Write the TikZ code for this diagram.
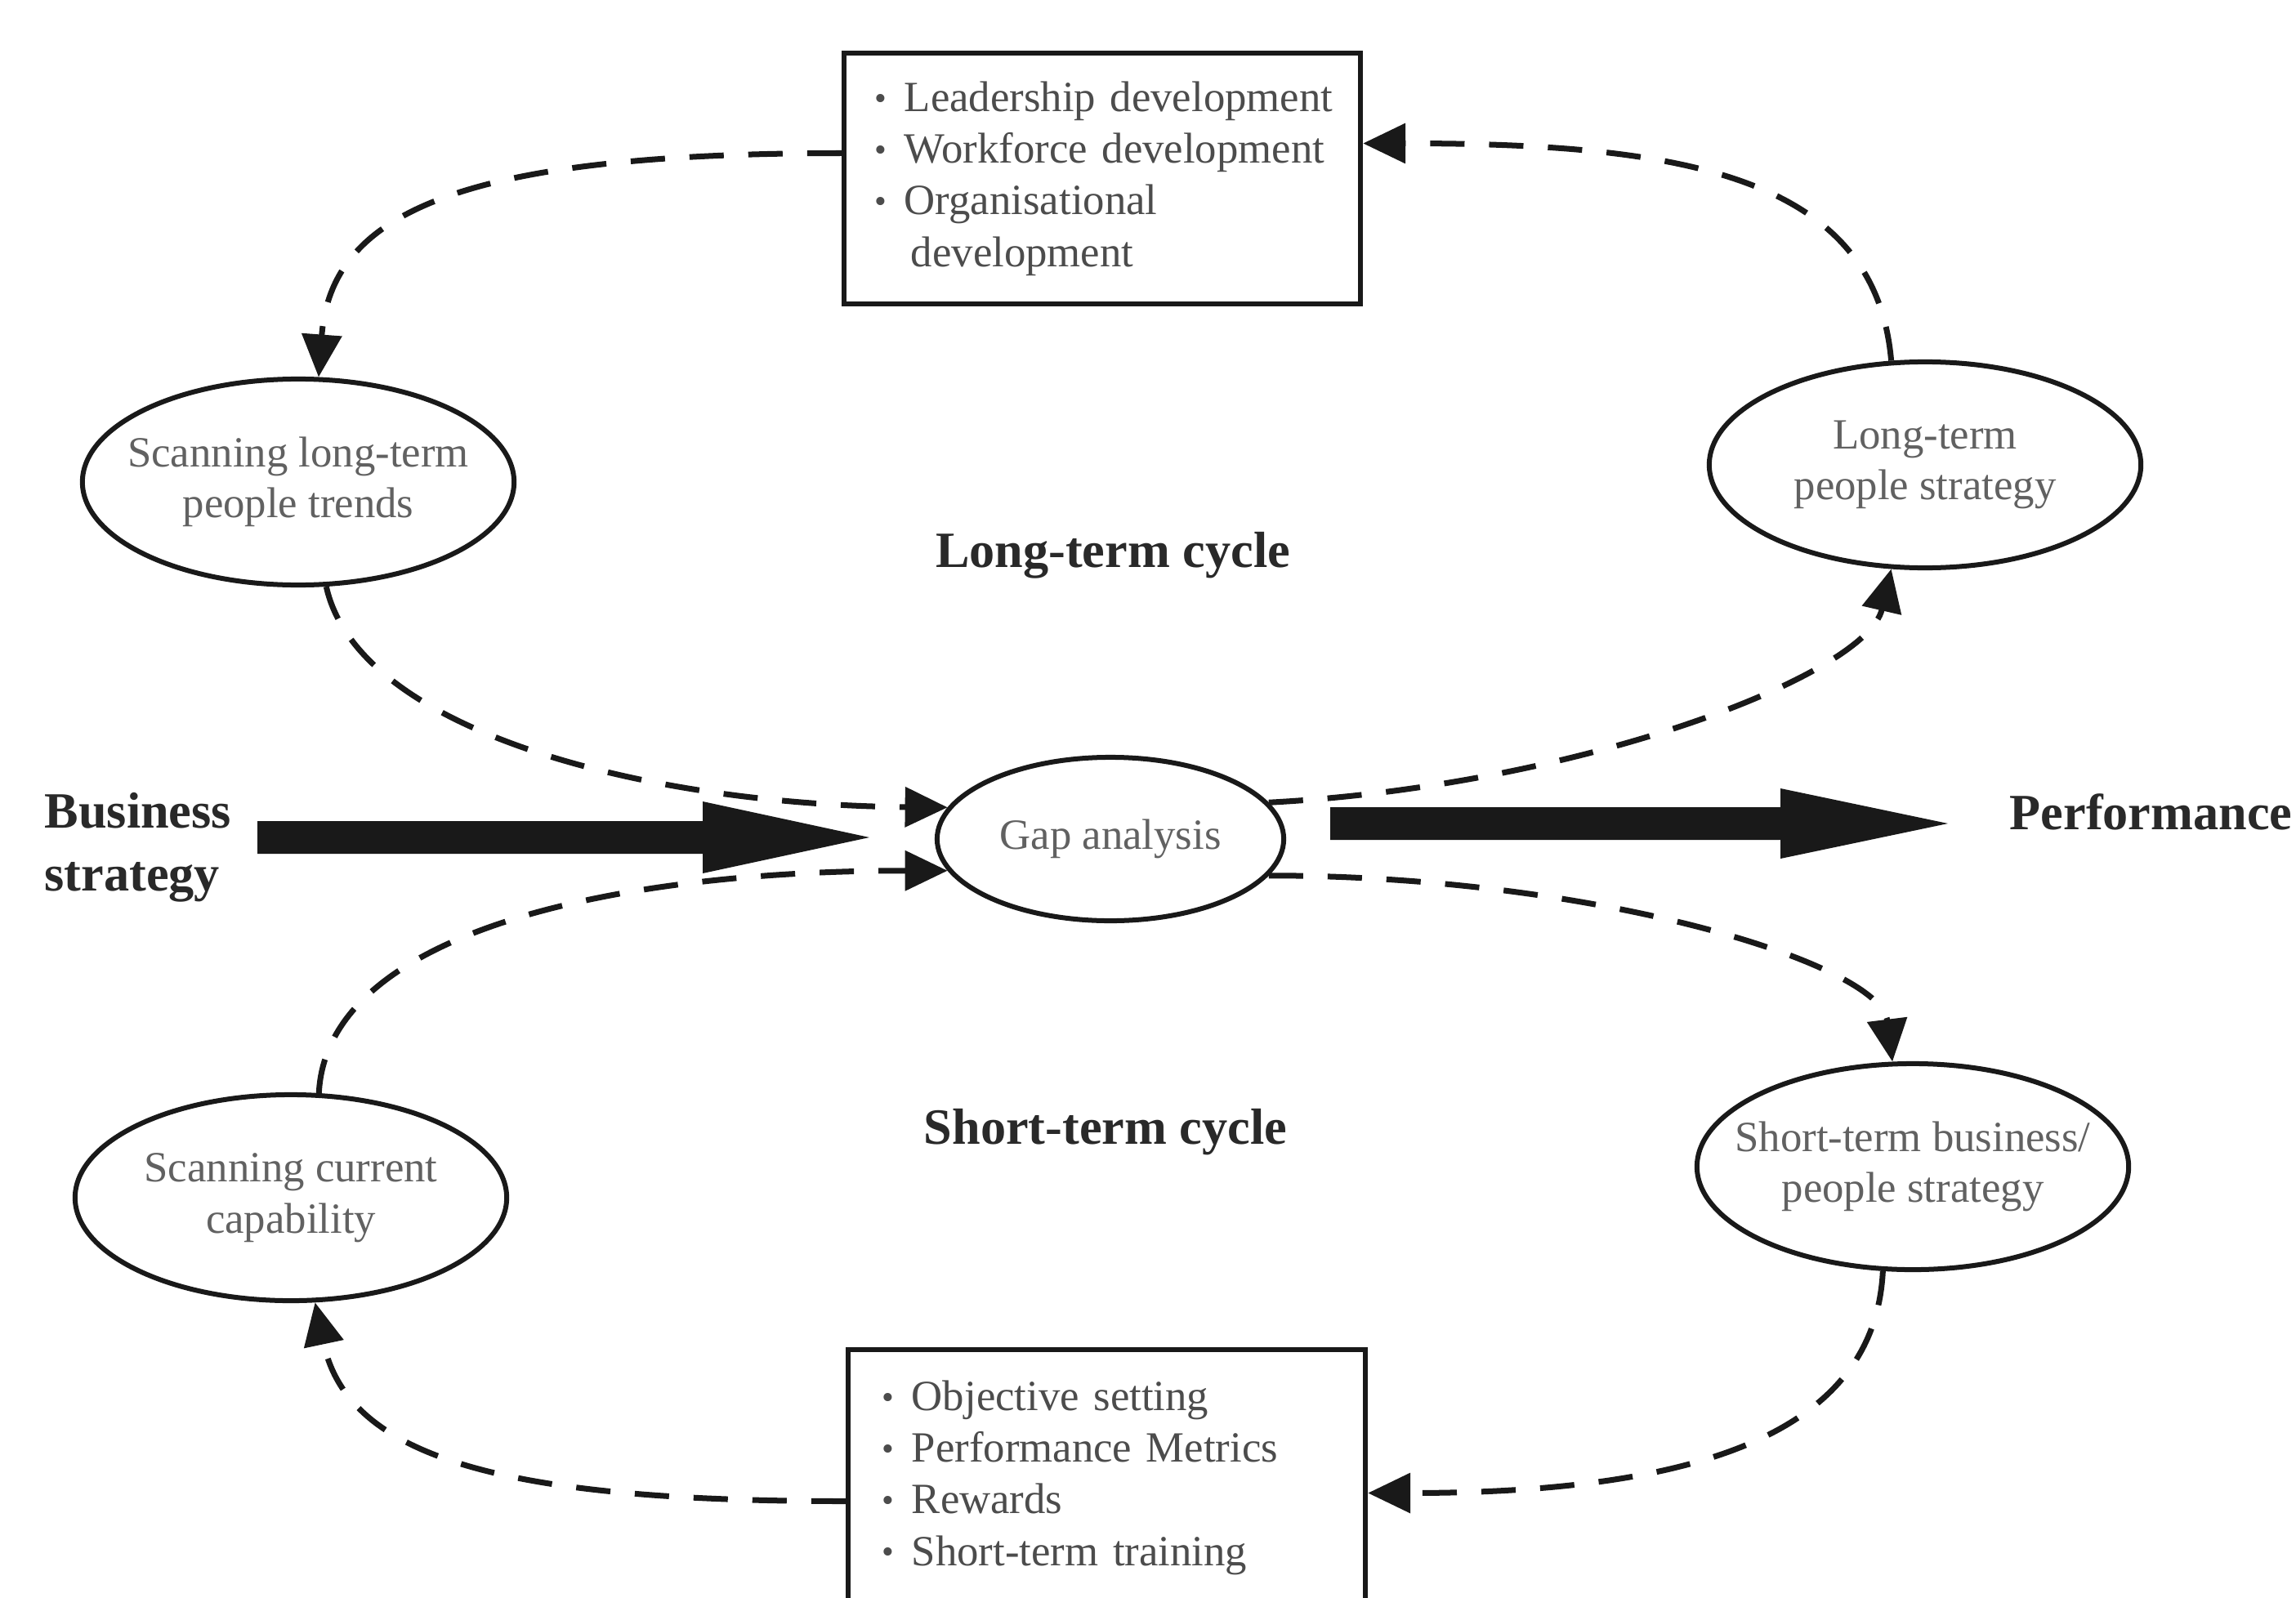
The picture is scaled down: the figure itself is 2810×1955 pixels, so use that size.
\documentclass[tikz,border=0pt]{standalone}
\usepackage{fontspec}
\setmainfont{Liberation Serif}
\usetikzlibrary{arrows.meta,shapes.geometric,calc}
\definecolor{ink}{gray}{0.1}
\definecolor{boxtext}{gray}{0.3}
\definecolor{ovaltext}{gray}{0.38}
\definecolor{headtext}{gray}{0.16}
% small bullet followed by a fixed indent
\newcommand{\bul}{\makebox[0.36cm][l]{\fontsize{12}{12}\selectfont\raisebox{0.6pt}{•}}}
\begin{document}
\begin{tikzpicture}[x=0.01cm,y=-0.01cm,
  every node/.style={inner sep=0pt},
  oval/.style={ellipse, draw=ink, line width=0.06cm, minimum width=5.28cm,
    minimum height=2.52cm, inner xsep=-0.6cm, inner ysep=0pt, text=ovaltext,
    font=\fontsize{15}{17.8}\selectfont, align=center},
  listbox/.style={rectangle, draw=ink, line width=0.06cm, text=boxtext,
    font=\fontsize{15}{18}\selectfont, align=left},
  heading/.style={text=headtext, font=\bfseries\fontsize{17.7}{22}\selectfont},
  flow/.style={draw=ink, line width=0.07cm, dash pattern=on 0.42cm off 0.3cm,
    -{Triangle[length=0.52cm,width=0.48cm]}},
  bigarrow/.style={fill=ink}
]
\path[fill=white] (0,0) rectangle (2810,1955);
\useasboundingbox (0,0) rectangle (2810,1955);

% development activities (long-term) and short-term levers
\node[listbox, inner xsep=0.38cm, text width=5.56cm, minimum height=3.07cm]
  (devbox) at (1349,218.5)
  {\mbox{\bul Leadership development}\\ \mbox{\bul Workforce development}\\
   \bul Organisational\\ \hspace*{0.44cm}development};
\node[listbox, inner xsep=0.42cm, text width=5.49cm, minimum height=3.13cm]
  (actbox) at (1354.5,1808.5)
  {\bul Objective setting\\ \bul Performance Metrics\\
   \bul Rewards\\ \bul Short-term training};

% process stages
\node[oval] (slt) at (365,590) {Scanning long-term\\people trends};
\node[oval] (ltps) at (2356,569) {Long-term\\people strategy};
\node[oval, minimum width=4.24cm, minimum height=2.0cm] (gap) at (1359,1027) {Gap analysis};
\node[oval] (scc) at (356,1466) {Scanning current\\capability};
\node[oval] (stb) at (2341,1428) {Short-term business/\\people strategy};

% headings
\node[heading] (ltc) at (1362,680) {Long-term cycle};
\node[heading] (stc) at (1353,1386) {Short-term cycle};
\node[heading, align=left, anchor=west] (bs) at (54,1037) {Business\\strategy};
\node[heading, anchor=west] (perf) at (2459,994) {Performance};

% thick input and output arrows
\coordinate (inTail) at (315,1005);
\coordinate (inTip) at (1064,1025);
\fill[bigarrow] (inTail) -- ++(545,0) -- ++(0,-24) -- (inTip) -- ++(-204,44)
  -- ++(0,-24) -- ++(-545,0) -- cycle;
\coordinate (outTail) at (1628,988);
\coordinate (outTip) at (2384,1008);
\fill[bigarrow] (outTail) -- ++(551,0) -- ++(0,-23) -- (outTip) -- ++(-205,43)
  -- ++(0,-23) -- ++(-551,0) -- cycle;

% long-term cycle
\draw[flow] ($(devbox.west)+(0,-31)$) .. controls +(-470,0) and +(15,-200) .. (slt.79);
\draw[flow] (slt.-75) .. controls +(40,180) and +(-360,-3) .. (gap.169);
\draw[flow] (gap.13) .. controls +(380,-20) and +(-30,130) .. (ltps.-108);
\draw[flow] (ltps.108) .. controls +(-20,-230) and +(380,0) .. ($(devbox.east)+(0,-43)$);

% short-term cycle
\draw[flow] (scc.75) .. controls +(10,-200) and +(-400,0) .. (gap.-169);
\draw[flow] (gap.-13) .. controls +(400,0) and +(-15,-120) .. (stb.101);
\draw[flow] (stb.-106) .. controls +(-10,200) and +(400,0) .. ($(actbox.east)+(0,19)$);
\draw[flow] ($(actbox.west)+(0,29)$) .. controls +(-420,0) and +(40,190) .. (scc.-77);
\end{tikzpicture}
\end{document}
